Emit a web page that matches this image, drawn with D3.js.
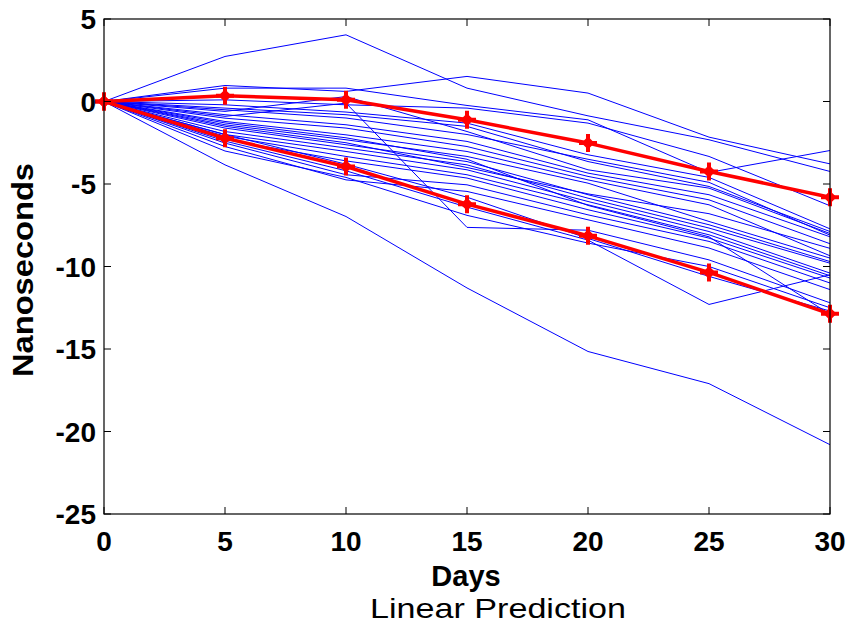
<!DOCTYPE html>
<html><head><meta charset="utf-8">
<script src="https://cdn.jsdelivr.net/npm/d3@7"></script>
<style>body{margin:0;background:#fff}svg{display:block}</style>
</head><body>
<svg id="c" width="846" height="626"></svg>
<script>
const days = [0, 5, 10, 15, 20, 25, 30];
const xTicks = [0, 5, 10, 15, 20, 25, 30];
const yTicks = [5, 0, -5, -10, -15, -20, -25];
const blueSeries = [
  [0, 2.73, 4.04, 0.81, -0.87, -2.32, -4.24],
  [0, 0.97, 0.61, 1.52, 0.51, -2.16, -3.78],
  [0, 0.81, 0.81, -0.24, -1.11, -4.3, -2.97],
  [0, 0.1, -0.2, -0.4, -1.31, -3.33, -6.32],
  [0, -0.2, -0.64, -1.31, -3.23, -4.6, -7.72],
  [0, -0.4, -0.8, -1.51, -3.64, -5.15, -7.88],
  [0, -0.6, 0.3, -1.82, -4.14, -5.25, -8.0],
  [0, -0.8, -1.41, -2.42, -4.34, -5.65, -8.2],
  [0, -1.01, -1.61, -2.73, -4.54, -5.96, -8.62],
  [0, -1.21, -2.02, -3.03, -4.75, -6.26, -9.35],
  [0, -1.41, -2.32, -3.33, -4.95, -7.27, -9.49],
  [0, -1.61, -2.62, -3.64, -5.65, -7.47, -9.7],
  [0, -1.82, -2.82, -3.84, -5.86, -7.67, -9.8],
  [0, -2.0, -3.03, -4.14, -6.06, -7.88, -10.4],
  [0, -2.1, -3.33, -4.44, -6.26, -8.08, -10.56],
  [0, -2.3, -3.6, -4.64, -6.56, -8.28, -10.7],
  [0, -2.52, -4.44, -5.05, -6.87, -8.48, -11.0],
  [0, -2.73, -4.75, -5.45, -7.17, -8.88, -11.4],
  [0, -0.9, -0.1, -7.63, -7.8, -9.6, -12.2],
  [0, -3.0, -4.6, -6.9, -8.58, -10.0, -12.5],
  [0, -2.4, -4.2, -6.4, -8.4, -12.3, -10.5],
  [0, -3.84, -6.97, -11.3, -15.15, -17.1, -20.8],
  [0, -1.3, -2.2, -3.5, -6.3, -8.2, -12.9],
  [0, -2.0, -3.8, -5.8, -8.3, -10.6, -12.7],
  [0, -1.5, -2.5, -4.0, -5.6, -6.8, -8.9],
  [0, -0.5, -1.0, -2.0, -3.5, -4.9, -8.1]
];
const redUpper = [0, 0.35, 0.1, -1.11, -2.52, -4.24, -5.8];
const redLower = [0, -2.22, -3.94, -6.22, -8.14, -10.36, -12.87];

const svg = d3.select("#c");
const L = 104, R = 830, T = 19, B = 514;
const x = d3.scaleLinear().domain([0, 30]).range([L, R]);
const y = d3.scaleLinear().domain([-25, 5]).range([B, T]);
const line = d3.line().x((d, i) => x(days[i])).y(d => y(d));

const g = svg.append("g");
g.selectAll("path.blue").data(blueSeries).join("path")
  .attr("class", "blue").attr("d", line)
  .attr("fill", "none").attr("stroke", "#0000ff").attr("stroke-width", 1);

[redUpper, redLower].forEach(s => {
  g.append("path").attr("d", line(s)).attr("fill", "none")
    .attr("stroke", "#ff0000").attr("stroke-width", 3.5).attr("stroke-linejoin", "round");
  const m = g.selectAll(null).data(s).join("g")
    .attr("transform", (d, i) => `translate(${x(days[i])},${y(d)})`);
  m.append("path").attr("d", "M-9,0L9,0M0,-9L0,9").attr("stroke", "#ff0000").attr("stroke-width", 4);
  m.append("path").attr("d", "M-6.5,0L0,-6.5L6.5,0L0,6.5Z").attr("fill", "#ff0000");
});

// frame
svg.append("rect").attr("x", L).attr("y", T).attr("width", R - L).attr("height", B - T)
  .attr("fill", "none").attr("stroke", "#000").attr("stroke-width", 1.2);

const tl = 7;
const ax = svg.append("g").attr("stroke", "#000").attr("stroke-width", 1);
xTicks.forEach(v => {
  ax.append("line").attr("x1", x(v)).attr("x2", x(v)).attr("y1", B).attr("y2", B - tl);
  ax.append("line").attr("x1", x(v)).attr("x2", x(v)).attr("y1", T).attr("y2", T + tl);
});
yTicks.forEach(v => {
  ax.append("line").attr("x1", L).attr("x2", L + tl).attr("y1", y(v)).attr("y2", y(v));
  ax.append("line").attr("x1", R).attr("x2", R - tl).attr("y1", y(v)).attr("y2", y(v));
});

const font = "'Liberation Sans', Arial, sans-serif";
svg.selectAll("text.xt").data(xTicks).join("text").attr("class", "xt")
  .attr("x", d => x(d)).attr("y", 551).attr("text-anchor", "middle")
  .attr("font-family", font).attr("font-weight", "bold").attr("font-size", 28)
  .text(d => d);
svg.selectAll("text.yt").data(yTicks).join("text").attr("class", "yt")
  .attr("x", 96).attr("y", d => y(d) + 10).attr("text-anchor", "end")
  .attr("font-family", font).attr("font-weight", "bold").attr("font-size", 28)
  .text(d => d);

svg.append("text").attr("x", 466).attr("y", 586).attr("text-anchor", "middle")
  .attr("font-family", font).attr("font-weight", "bold").attr("font-size", 29).text("Days");
svg.append("text").attr("transform", "translate(33,270) rotate(-90)").attr("text-anchor", "middle")
  .attr("font-family", font).attr("font-weight", "bold").attr("font-size", 30)
  .attr("textLength", 214).attr("lengthAdjust", "spacingAndGlyphs").text("Nanoseconds");
svg.append("text").attr("x", 498).attr("y", 618).attr("text-anchor", "middle")
  .attr("font-family", font).attr("font-size", 28)
  .attr("textLength", 256).attr("lengthAdjust", "spacingAndGlyphs").text("Linear Prediction");
</script>
</body></html>
